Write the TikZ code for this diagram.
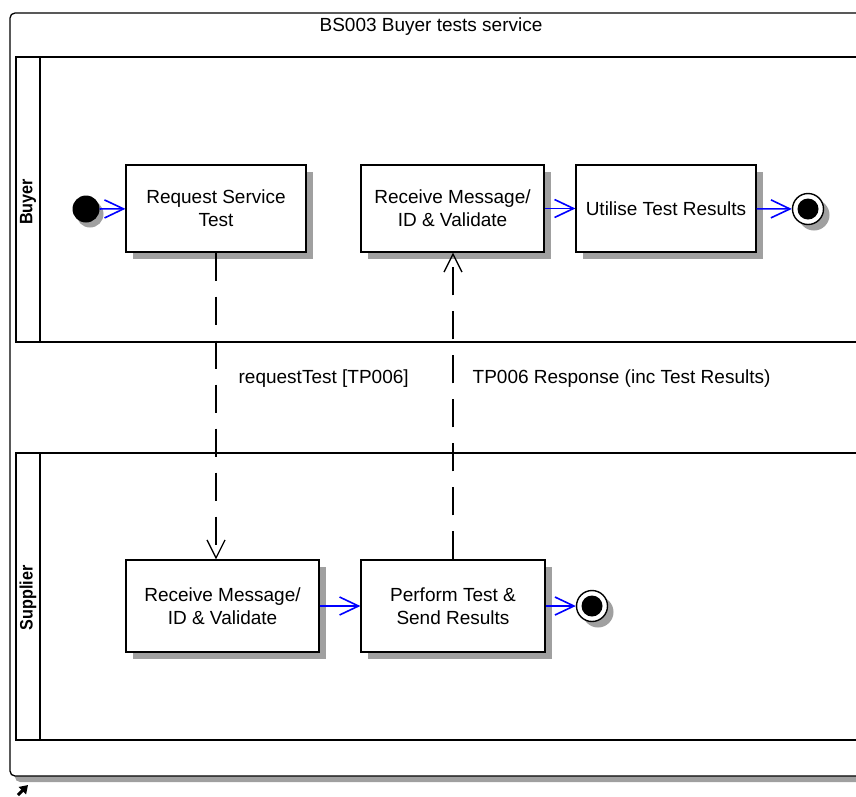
\documentclass[tikz,border=0pt]{standalone}
\usepackage{fontspec}
\setmainfont{Liberation Sans}
\usetikzlibrary{arrows.meta,shadows}

\definecolor{shadowgray}{RGB}{160,160,160}
\definecolor{flowblue}{RGB}{0,0,255}

\begin{document}
\begin{tikzpicture}[x=1pt,y=-1pt,
    every node/.style={font=\fontsize{19}{23}\selectfont},
    action/.style={draw, fill=white, line width=1.2pt, align=center, minimum height=87pt,
      drop shadow={shadow xshift=7pt, shadow yshift=-7pt, fill=shadowgray, opacity=1}},
    initial/.style={circle, fill=black, minimum size=27pt, inner sep=0pt,
      drop shadow={shadow xshift=4pt, shadow yshift=-5pt, fill=shadowgray, opacity=1}},
    final/.style={circle, draw, fill=white, line width=1.4pt, minimum size=31pt, inner sep=0pt,
      drop shadow={shadow xshift=6pt, shadow yshift=-6pt, fill=shadowgray, opacity=1}},
    flow/.style={draw=flowblue, line width=1.6pt, -{Straight Barb[length=19pt,width=18pt]}},
    msg/.style={line width=1.3pt, dash pattern=on 28pt off 16pt, -{Straight Barb[length=18pt,width=18pt]}},
    lane/.style={line width=1.3pt},
    lanelabel/.style={rotate=90, font=\bfseries\fontsize{18}{20}\selectfont}]
        \clip (0,0) rectangle (856,796);
        \fill [shadowgray, rounded corners=5pt] (15,19) rectangle (880,782); % frame shadow
        \draw [line width=1.3pt, fill=white, rounded corners=5pt] (10,13) rectangle (875,776);
        \node (title) at (431,27) {BS003 Buyer tests service};
        % lanes
        \draw [lane] (16,57) rectangle (880,342);
        \draw [lane] (40,57) -- (40,342);
        \draw [lane] (16,453) rectangle (880,740);
        \draw [lane] (40,453) -- (40,740);
        \node [lanelabel, xscale=0.9] (buyer) at (28,202) {Buyer};
        \node [lanelabel, xscale=0.9] (supplier) at (28,598) {Supplier};
        % buyer lane
        \node [initial] (start) at (86,209) {};
        \node [action, minimum width=180pt] (request) at (216,208.5) {Request Service\\Test};
        \node [action, minimum width=183pt] (buyrecv) at (452.5,208.5) {Receive Message/\\ID \& Validate};
        \node [action, minimum width=180pt] (utilise) at (666,208.5) {Utilise Test Results};
        \node [final] (buyend) at (808,209) {};
        \fill (buyend) circle (10.5); % end dot
        % supplier lane
        \node [action, minimum width=193pt, minimum height=92pt] (supprecv) at (222.5,606) {Receive Message/\\ID \& Validate};
        \node [action, minimum width=184pt, minimum height=92pt] (perform) at (453,606) {Perform Test \&\\Send Results};
        \node [final] (suppend) at (592,606) {};
        \fill (suppend) circle (10.5);
        % flows
        \draw [flow] (start) -- (request);
        \draw [flow] (buyrecv) -- (utilise);
        \draw [flow] (utilise) -- (buyend);
        \draw [flow] (supprecv) -- (perform);
        \draw [flow] (perform) -- (suppend);
        % messages
        \draw [msg] (request.south) -- (request.south |- supprecv.north)
            node [pos=0.41, anchor=west, inner sep=0pt, xshift=22pt] (reqlabel) {requestTest [TP006]};
        \draw [msg] (perform.north) -- (perform.north |- buyrecv.south)
            node [pos=0.59, anchor=west, inner sep=0pt, xshift=19pt] (resplabel) {TP006 Response (inc Test Results)};
        \draw [line width=3pt, -{Triangle[length=8pt,width=10pt]}] (18,795) -- (28,785); % corner mark
\end{tikzpicture}
\end{document}
